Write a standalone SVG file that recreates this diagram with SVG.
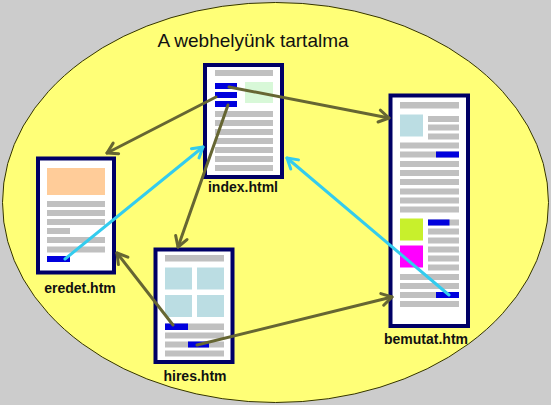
<svg xmlns="http://www.w3.org/2000/svg" width="551" height="405" viewBox="0 0 551 405">
<defs>
<style>
.frame{fill:#ffffff;stroke:#000066;stroke-width:4}
.g{fill:#c0c0c0}
.b{fill:#0000dd}
.lbl{font-family:"Liberation Sans",Arial,sans-serif;font-weight:bold;font-size:14px;fill:#111111;text-anchor:middle}
.ol{fill:none;stroke:#666633;stroke-width:3;stroke-linecap:round}
.cy{fill:none;stroke:#33ccee;stroke-width:3;stroke-linecap:round}
</style>
<marker id="ao" markerUnits="userSpaceOnUse" viewBox="-12 -8 14 16" markerWidth="14" markerHeight="16" refX="0" refY="0" orient="auto">
<path d="M-10,-6 L0,0 L-10,6" fill="none" stroke="#666633" stroke-width="3" stroke-linecap="round" stroke-linejoin="round"/>
</marker>
<marker id="ac" markerUnits="userSpaceOnUse" viewBox="-12 -8 14 16" markerWidth="14" markerHeight="16" refX="0" refY="0" orient="auto">
<path d="M-10,-6 L0,0 L-10,6" fill="none" stroke="#33ccee" stroke-width="3" stroke-linecap="round" stroke-linejoin="round"/>
</marker>
</defs>
<rect x="0" y="0" width="551" height="405" fill="#cccccc"/>
<ellipse cx="275.5" cy="202.5" rx="273" ry="200" fill="#ffff77" stroke="#333300" stroke-width="1"/>
<text x="253" y="47" font-family="'Liberation Sans',Arial,sans-serif" font-size="19" fill="#111111" text-anchor="middle">A webhelyünk tartalma</text>

<g id="index">
<rect class="frame" x="205" y="65" width="77" height="112"/>
<rect class="g" x="215" y="70" width="58" height="6"/>
<rect fill="#d8f8d8" x="245" y="82" width="28" height="21"/>
<rect class="b" x="215" y="83" width="22" height="6"/>
<rect class="b" x="215" y="92" width="22" height="6"/>
<rect class="b" x="215" y="101" width="22" height="6"/>
<rect class="g" x="215" y="111" width="58" height="6"/>
<rect class="g" x="215" y="120" width="58" height="6"/>
<rect class="g" x="215" y="129" width="58" height="6"/>
<rect class="g" x="215" y="138" width="58" height="6"/>
<rect class="g" x="215" y="147" width="58" height="6"/>
<rect class="g" x="215" y="156" width="58" height="6"/>
<rect class="g" x="215" y="165" width="58" height="6"/>
<text class="lbl" x="243" y="192">index.html</text>
</g>

<g id="eredet">
<rect class="frame" x="38" y="158.5" width="76" height="114"/>
<rect fill="#ffcc99" x="47" y="168" width="58" height="27"/>
<rect class="g" x="47" y="201" width="58" height="6"/>
<rect class="g" x="47" y="210" width="58" height="6"/>
<rect class="g" x="47" y="219" width="58" height="6"/>
<rect class="g" x="47" y="228" width="23" height="6"/>
<rect class="g" x="47" y="237" width="58" height="6"/>
<rect class="g" x="47" y="246.5" width="58" height="6"/>
<rect class="b" x="47" y="256" width="23" height="6"/>
<text class="lbl" x="80" y="293">eredet.htm</text>
</g>

<g id="hires">
<rect class="frame" x="155.5" y="249.5" width="77" height="112.5"/>
<rect class="g" x="165" y="255" width="59" height="6.5"/>
<rect fill="#bbdde3" x="165" y="267.5" width="27" height="22"/>
<rect fill="#bbdde3" x="197" y="267.5" width="27" height="22"/>
<rect fill="#bbdde3" x="165" y="295" width="27" height="22"/>
<rect fill="#bbdde3" x="197" y="295" width="27" height="22"/>
<rect class="g" x="165" y="323.5" width="59" height="6.5"/>
<rect class="b" x="165" y="323.5" width="23" height="6.5"/>
<rect class="g" x="165" y="332.5" width="59" height="6"/>
<rect class="g" x="165" y="341.5" width="59" height="6"/>
<rect class="b" x="188" y="341.5" width="21" height="6"/>
<rect class="g" x="165" y="350.5" width="59" height="6"/>
<text class="lbl" x="195" y="381">hires.htm</text>
</g>

<g id="bemutat">
<rect class="frame" x="390.5" y="95.5" width="77.5" height="230.5"/>
<rect class="g" x="400" y="102" width="59" height="6.5"/>
<rect fill="#bbdde3" x="400" y="114.5" width="23" height="22"/>
<rect class="g" x="428" y="116" width="31" height="6"/>
<rect class="g" x="428" y="124.5" width="31" height="6"/>
<rect class="g" x="428" y="133.5" width="31" height="6"/>
<rect class="g" x="400" y="142.5" width="59" height="6"/>
<rect class="g" x="400" y="151.5" width="59" height="6"/>
<rect class="b" x="436" y="151.5" width="23" height="6"/>
<rect class="g" x="400" y="161" width="59" height="6"/>
<rect class="g" x="400" y="170" width="59" height="6"/>
<rect class="g" x="400" y="179" width="59" height="6"/>
<rect class="g" x="400" y="188.5" width="59" height="6"/>
<rect class="g" x="400" y="197.5" width="59" height="6"/>
<rect class="g" x="400" y="206.5" width="59" height="6"/>
<rect fill="#c8f02c" x="400" y="218.5" width="23" height="22"/>
<rect fill="#ff00ff" x="400" y="245.5" width="23" height="22"/>
<rect class="g" x="428" y="219.5" width="31" height="6"/>
<rect class="b" x="428" y="219.5" width="21.5" height="6"/>
<rect class="g" x="428" y="228.5" width="31" height="6"/>
<rect class="g" x="428" y="237.5" width="31" height="6"/>
<rect class="g" x="428" y="246.5" width="31" height="6"/>
<rect class="g" x="428" y="255.5" width="31" height="6"/>
<rect class="g" x="428" y="264.5" width="31" height="6"/>
<rect class="g" x="400" y="274" width="59" height="6"/>
<rect class="g" x="400" y="283" width="59" height="6"/>
<rect class="g" x="400" y="292" width="59" height="6"/>
<rect class="b" x="436" y="292" width="23" height="6"/>
<rect class="g" x="400" y="301" width="59" height="6"/>
<text class="lbl" x="426" y="344">bemutat.htm</text>
</g>

<g id="connectors">
<path class="ol" d="M229,87 L389,118" marker-end="url(#ao)"/>
<path class="ol" d="M216,97 L107,153" marker-end="url(#ao)"/>
<path class="ol" d="M228,105 L178,247" marker-end="url(#ao)"/>
<path class="ol" d="M173,325 L117,253" marker-end="url(#ao)"/>
<path class="ol" d="M197,345 L392,297" marker-end="url(#ao)"/>
<path class="cy" d="M65,259 L203,147" marker-end="url(#ac)"/>
<path class="cy" d="M449,295 L287,158" marker-end="url(#ac)"/>
</g>
</svg>
